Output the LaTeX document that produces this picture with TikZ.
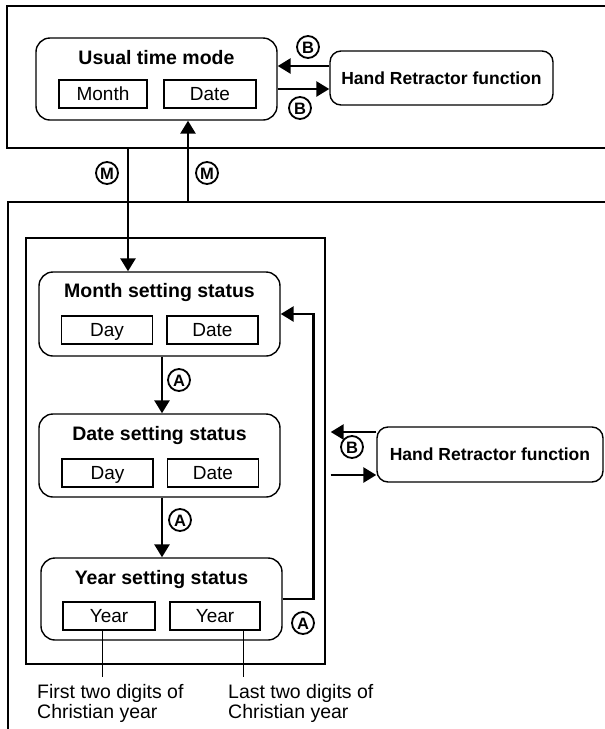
\documentclass[tikz,border=0pt]{standalone}
\usepackage{fontspec}
\setmainfont{Liberation Sans}
\usetikzlibrary{arrows.meta,calc}
\begin{document}
\begin{tikzpicture}[x=1pt,y=-1pt,
  frame/.style={line width=1.4pt},
  state/.style={draw,line width=1.4pt,rounded corners=14pt,minimum width=241pt,minimum height=83pt,inner sep=0pt},
  cell/.style={draw,line width=1.2pt,minimum width=91pt,minimum height=28pt,inner sep=0pt,text height=13.6pt,text depth=0pt,font=\fontsize{19}{19}\selectfont},
  ttl/.style={font=\bfseries\fontsize{19.5}{20}\selectfont,inner sep=0pt,anchor=base},
  hrf/.style={draw,line width=1.4pt,rounded corners=11pt,inner sep=0pt,text height=12.6pt,text depth=0pt,font=\bfseries\fontsize{17.5}{18}\selectfont},
  key/.style={circle,draw,line width=1.8pt,minimum size=22pt,inner sep=0pt,text height=12pt,text depth=0pt,font=\bfseries\fontsize{16.5}{16.5}\selectfont},
  arr/.style={line width=2.7pt,-{Triangle[length=13pt,width=15pt]}},
  thin/.style={line width=1pt},
  note/.style={align=left,inner sep=0pt,anchor=north west,font=\fontsize{19.5}{20}\selectfont},
]
\useasboundingbox (0,0) rectangle (605,729);
\fill[white] (0,0) rectangle (605,729);

% frames
\draw[frame] (605,6) -- (7,6) -- (7,148) -- (605,148);
\draw[frame] (605,202) -- (8,202) -- (8,729);
\node[draw,frame,minimum width=299pt,minimum height=426pt,inner sep=0pt] (inner) at (175.5,451) {};

% usual time mode
\node[state,minimum height=82pt] (usual) at (156.5,79) {};
\node[ttl] (usualT) at (156.5,64) {Usual time mode};
\node[cell,minimum width=88pt] (uMonth) at (103,94) {Month};
\node[cell,minimum width=92pt] (uDate) at (210,94) {Date};

\node[hrf,minimum width=223pt,minimum height=54pt] (hand1) at (441.5,78) {Hand Retractor function};

\draw[arr] ($(hand1.west)+(0,-12)$) -- ($(hand1.west -| usual.east)+(0,-12)$);
\draw[arr] ($(usual.east)+(0,10)$) -- ($(usual.east -| hand1.west)+(0,10)$);
\node[key] (kB1) at (308,47) {B};
\node[key] (kB2) at (300,108) {B};

% M arrows
\coordinate (m1) at (128,148);
\coordinate (m2) at (188,202);

% month setting
\node[state,minimum height=84pt] (month) at (159.5,314) {};
\node[ttl] (monthT) at (159.5,297) {Month setting status};
\node[cell] (mDay) at (107,330) {Day};
\node[cell] (mDate) at (212.5,330) {Date};

% date setting
\node[state] (datest) at (159.5,455.5) {};
\node[ttl] (dateT) at (159.5,440) {Date setting status};
\node[cell] (dDay) at (107.5,473) {Day};
\node[cell] (dDate) at (213,473) {Date};

% year setting
\node[state,minimum height=82pt] (year) at (161.5,599) {};
\node[ttl] (yearT) at (161.5,584) {Year setting status};
\node[cell,minimum width=92pt] (yA) at (109,616) {Year};
\node[cell,minimum width=90pt] (yB) at (215,616) {Year};

\draw[arr] (m1) -- (m1 |- month.north);
\draw[arr] (m2) -- (m2 |- usual.south);
\node[key] (kM1) at (107,173) {M};
\node[key] (kM2) at (207,173) {M};

\draw[arr] ($(month.south)+(2.5,0)$) -- ($(datest.north)+(2.5,0)$);
\node[key] (kA1) at (179,380) {A};
\draw[arr] ($(datest.south)+(2.5,0)$) -- ($(year.north)+(0.5,0)$);
\node[key] (kA2) at (180,520) {A};

\draw[arr] (year.east) -- ++(31,0) |- (month.east);
\node[key] (kA3) at (303,623) {A};

% hand retractor 2
\node[hrf,minimum width=226pt,minimum height=55pt] (hand2) at (490,454.5) {Hand Retractor function};
\draw[arr] ($(hand2.west)+(0,-22.5)$) -- ($(hand2.west -| inner.east)+(5,-22.5)$);
\draw[arr] ($(hand2.west -| inner.east)+(5,20.5)$) -- ($(hand2.west)+(0,20.5)$);
\node[key] (kB3) at (352,447) {B};

% notes
\coordinate (n1) at (102,677);
\coordinate (n2) at (243,677);
\draw[thin] (n1 |- yA.south) -- (n1);
\draw[thin] (n2 |- yB.south) -- (n2);
\node[note] (t1) at (37,684) {First two digits of\\Christian year};
\node[note] (t2) at (228,684) {Last two digits of\\Christian year};
\end{tikzpicture}
\end{document}
